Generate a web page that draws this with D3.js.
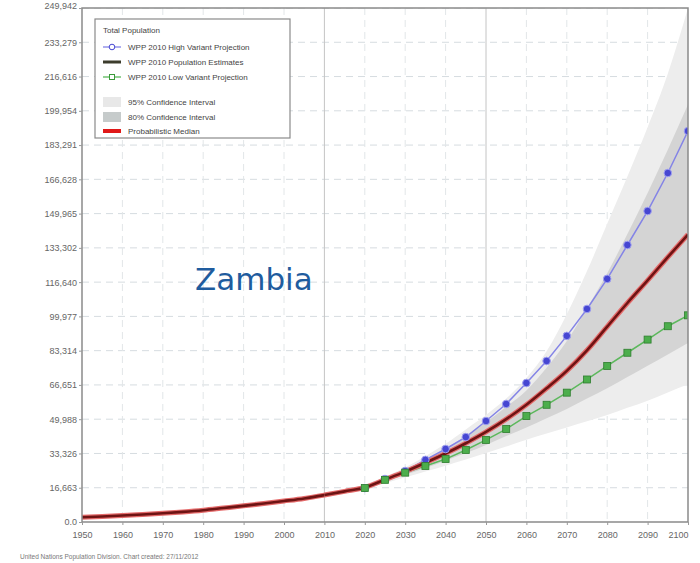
<!DOCTYPE html>
<html>
<head>
<meta charset="utf-8">
<script src="https://cdn.jsdelivr.net/npm/d3@7"></script>
<style>
  body { margin: 0; background: #fff; }
  svg { display: block; font-family: "Liberation Sans", Arial, sans-serif; }
</style>
</head>
<body>
<svg id="chart" width="700" height="563"></svg>
<script>
// estimates 1950-2010, thousands
const estYears = [1950, 1955, 1960, 1965, 1970, 1975, 1980, 1985, 1990, 1995, 2000, 2005, 2010];
const estimates = [2340, 2700, 3140, 3680, 4250, 4920, 5740, 6800, 7860, 9000, 10200, 11470, 13090];

// projections 2010-2100
const projYears = [2010, 2015, 2020, 2025, 2030, 2035, 2040, 2045, 2050, 2055, 2060, 2065, 2070, 2075, 2080, 2085, 2090, 2095, 2100];
const median = [13090, 14900, 16800, 20600, 24500, 28800, 33300, 38300, 43800, 50000, 57000, 65000, 73500, 83500, 95000, 106500, 117500, 128800, 139800];
const upper95 = [13090, 15300, 18200, 22000, 26500, 32000, 38000, 45000, 52000, 60000, 70000, 83000, 101000, 122000, 145000, 168000, 192000, 218000, 249942];
const upper80 = [13090, 15100, 17400, 21300, 25600, 30500, 35800, 41800, 48500, 56000, 64000, 75000, 88000, 104000, 121000, 140000, 160000, 181000, 203000];
const lower80 = [13090, 14700, 16300, 19600, 23000, 26300, 29800, 33500, 37500, 41800, 46000, 50500, 55000, 60000, 65000, 70500, 76000, 81500, 87000];
const lower95 = [13090, 14500, 15800, 18800, 21700, 24500, 27400, 30400, 33500, 36700, 40000, 43000, 46000, 49000, 52000, 55500, 59000, 63000, 67000];

const varYears = [2020, 2025, 2030, 2035, 2040, 2045, 2050, 2055, 2060, 2065, 2070, 2075, 2080, 2085, 2090, 2095, 2100];
const highVariant = [16500, 20900, 24800, 30200, 35500, 41300, 49100, 57400, 67600, 78300, 90500, 103600, 118200, 134700, 151200, 169700, 190100];
const lowVariant = [16500, 20500, 24000, 27200, 30600, 35000, 39900, 45200, 51500, 57000, 62900, 69300, 75900, 82300, 88700, 95200, 100500];

const xTicks = [1950, 1960, 1970, 1980, 1990, 2000, 2010, 2020, 2030, 2040, 2050, 2060, 2070, 2080, 2090, 2100];
const yMax = 249942;
const yTickLabels = ["0.0", "16,663", "33,326", "49,988", "66,651", "83,314", "99,977", "116,640",
  "133,302", "149,965", "166,628", "183,291", "199,954", "216,616", "233,279", "249,942"];

const legendItems = [
  {label: "WPP 2010 High Variant Projection", kind: "high"},
  {label: "WPP 2010 Population Estimates", kind: "est"},
  {label: "WPP 2010 Low Variant Projection", kind: "low"},
  {label: "", kind: "gap"},
  {label: "95% Confidence Interval", kind: "ci95"},
  {label: "80% Confidence Interval", kind: "ci80"},
  {label: "Probabilistic Median", kind: "median"}
];

const svg = d3.select("#chart");
const pLeft = 82, pRight = 688, pTop = 8, pBottom = 522;

const x = d3.scaleLinear().domain([1950, 2100]).range([pLeft, pRight]);
const y = d3.scaleLinear().domain([0, yMax]).range([pBottom, pTop]);

const defs = svg.append("defs");
defs.append("clipPath").attr("id", "plotclip")
  .append("rect").attr("x", pLeft).attr("y", pTop).attr("width", pRight - pLeft).attr("height", pBottom - pTop);

const plot = svg.append("g").attr("clip-path", "url(#plotclip)");

// grid
const yVals = yTickLabels.map((d, i) => i * yMax / 15);
plot.selectAll(".hgrid").data(yVals.slice(1)).join("line")
  .attr("x1", pLeft).attr("x2", pRight)
  .attr("y1", d => y(d)).attr("y2", d => y(d))
  .attr("stroke", "#d6dce0").attr("stroke-dasharray", "7,5").attr("stroke-width", 1);
plot.selectAll(".vgrid").data(xTicks.slice(1, -1)).join("line")
  .attr("x1", d => x(d)).attr("x2", d => x(d))
  .attr("y1", pTop).attr("y2", pBottom)
  .attr("stroke", d => (d == 2010 || d == 2050) ? "#c4c4c4" : "#e2e6e8")
  .attr("stroke-dasharray", d => (d == 2010 || d == 2050) ? null : "7,5")
  .attr("stroke-width", 1);

// confidence bands
const band = (lo, hi) => d3.area()
  .x((d, i) => x(projYears[i]))
  .y0((d, i) => y(lo[i]))
  .y1((d, i) => y(hi[i]))
  .curve(d3.curveMonotoneX);

plot.append("path").datum(projYears).attr("d", band(lower95, upper95)).attr("fill", "#ededed");
plot.append("path").datum(projYears).attr("d", band(lower80, upper80)).attr("fill", "#d4d4d4");

const line = d3.line().curve(d3.curveMonotoneX);

// variants
const highPts = varYears.map((d, i) => [x(d), y(highVariant[i])]);
const lowPts = varYears.map((d, i) => [x(d), y(lowVariant[i])]);

plot.append("path").attr("d", d3.line()(highPts))
  .attr("fill", "none").attr("stroke", "#8484e6").attr("stroke-width", 1.5);
plot.append("path").attr("d", d3.line()(lowPts))
  .attr("fill", "none").attr("stroke", "#5cb85c").attr("stroke-width", 1.5);

// median + estimates
const medPts = projYears.map((d, i) => [x(d), y(median[i])]);
const estPts = estYears.map((d, i) => [x(d), y(estimates[i])]);
[estPts, medPts].forEach(pts => {
  plot.append("path").attr("d", line(pts)).attr("fill", "none")
    .attr("stroke", "#e46a6a").attr("stroke-width", 5);
  plot.append("path").attr("d", line(pts)).attr("fill", "none")
    .attr("stroke", "#6e1414").attr("stroke-width", 2.6);
});

// markers (low drawn last, on top)
plot.selectAll(".highm").data(highPts).join("circle")
  .attr("cx", d => d[0]).attr("cy", d => d[1]).attr("r", 3.8)
  .attr("fill", "#4646d2").attr("stroke", "#a0a0f0").attr("stroke-width", 1);
plot.selectAll(".lowm").data(lowPts).join("rect")
  .attr("x", d => d[0] - 3.5).attr("y", d => d[1] - 3.5)
  .attr("width", 7).attr("height", 7)
  .attr("fill", "#4cae4c").attr("stroke", "#2e7d2e").attr("stroke-width", 0.8);

// frame
svg.append("rect").attr("x", pLeft).attr("y", pTop).attr("width", pRight - pLeft).attr("height", pBottom - pTop)
  .attr("fill", "none").attr("stroke", "#8a8a8a").attr("stroke-width", 1.5);

// axes
const yAxis = d3.axisLeft(y).tickValues(yVals).tickSize(3).tickPadding(2)
  .tickFormat((d, i) => yTickLabels[i]);
const gy = svg.append("g").attr("transform", `translate(${pLeft},0)`).call(yAxis);
gy.select(".domain").remove();
gy.selectAll("line").attr("stroke", "#999");
gy.selectAll("text").attr("fill", "#666").attr("font-size", 9).attr("font-family", "'Liberation Sans', Arial, sans-serif");
gy.selectAll("text").filter((d, i) => i == yVals.length - 1).attr("dy", "0.1em");

const xAxis = d3.axisBottom(x).tickValues(xTicks).tickSize(3).tickPadding(7).tickFormat(d3.format("d"));
const gx = svg.append("g").attr("transform", `translate(0,${pBottom})`).call(xAxis);
gx.select(".domain").remove();
gx.selectAll("line").attr("stroke", "#999");
gx.selectAll("text").attr("fill", "#666").attr("font-size", 9).attr("font-family", "'Liberation Sans', Arial, sans-serif");
gx.selectAll("text").filter(d => d == 2100).attr("text-anchor", "end").attr("dx", "0");

// legend
const lg = svg.append("g").attr("transform", "translate(95,19)");
lg.append("rect").attr("width", 195).attr("height", 119)
  .attr("fill", "#fff").attr("stroke", "#8a8a8a").attr("stroke-width", 1.2);
lg.append("text").attr("x", 8).attr("y", 14).text("Total Population")
  .attr("font-size", 8).attr("fill", "#444");
const rowY = [28, 43, 58, 72, 83, 98, 112];
legendItems.forEach((it, i) => {
  const g = lg.append("g").attr("transform", `translate(8,${rowY[i]})`);
  if (it.kind == "high") {
    g.append("line").attr("x1", 0).attr("x2", 18).attr("stroke", "#8484e6").attr("stroke-width", 1.3);
    g.append("circle").attr("cx", 9).attr("r", 2.8).attr("fill", "#fff").attr("stroke", "#4646d2");
  } else if (it.kind == "est") {
    g.append("line").attr("x1", 0).attr("x2", 18).attr("stroke", "#3c3c2c").attr("stroke-width", 3);
  } else if (it.kind == "low") {
    g.append("line").attr("x1", 0).attr("x2", 18).attr("stroke", "#5cb85c").attr("stroke-width", 1.3);
    g.append("rect").attr("x", 6.5).attr("y", -2.5).attr("width", 5).attr("height", 5).attr("fill", "#fff").attr("stroke", "#3a9a3a");
  } else if (it.kind == "ci95") {
    g.append("rect").attr("x", 0).attr("y", -5).attr("width", 18).attr("height", 10).attr("fill", "#e8e8e8");
  } else if (it.kind == "ci80") {
    g.append("rect").attr("x", 0).attr("y", -5).attr("width", 18).attr("height", 10).attr("fill", "#c6cbcb");
  } else if (it.kind == "median") {
    g.append("line").attr("x1", 0).attr("x2", 18).attr("stroke", "#e01818").attr("stroke-width", 4);
  }
  if (it.label) {
    g.append("text").attr("x", 25).attr("y", 3).text(it.label)
      .attr("font-size", 8).attr("fill", "#444");
  }
});

// country label
svg.append("text").attr("x", 195).attr("y", 290).text("Zambia")
  .attr("font-family", "'DejaVu Sans', Verdana, sans-serif")
  .attr("font-size", 31).attr("fill", "#1f5c9e");

// footer
svg.append("text").attr("x", 20).attr("y", 559)
  .text("United Nations Population Division. Chart created: 27/11/2012")
  .attr("font-size", 6.5).attr("fill", "#777");
</script>
</body>
</html>
